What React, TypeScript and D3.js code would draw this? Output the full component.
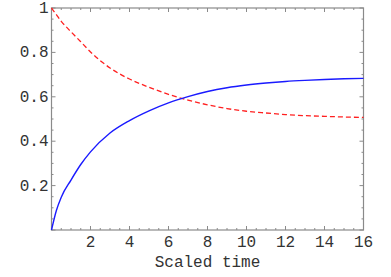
import React, { useEffect, useRef } from 'react';
import * as d3 from 'd3';

// values
const times = [0, 0.25, 0.5, 1, 1.5, 2, 3, 4, 5, 6, 7, 8, 9, 10, 11, 12, 13, 14, 15, 16];
const blueValues = [0, 0.088, 0.148, 0.225, 0.295, 0.352, 0.437, 0.493, 0.537, 0.573, 0.601, 0.624, 0.641, 0.653, 0.662, 0.669, 0.674, 0.678, 0.681, 0.683];
const redValues = [1, 0.97, 0.94, 0.893, 0.848, 0.802, 0.73, 0.68, 0.643, 0.611, 0.585, 0.564, 0.547, 0.535, 0.527, 0.52, 0.515, 0.512, 0.509, 0.507];
const xTicks = [2, 4, 6, 8, 10, 12, 14, 16];
const yTicks = [0.2, 0.4, 0.6, 0.8, 1];
const xLabel = 'Scaled time';

const W = 391;
const H = 277;
const margin = { top: 8, right: 27.5, bottom: 47, left: 51.5 };

export default function App() {
  const ref = useRef<SVGSVGElement>(null);

  useEffect(() => {
    const svg = d3.select(ref.current);
    svg.selectAll('*').remove();

    const w = W - margin.left - margin.right;
    const h = H - margin.top - margin.bottom;

    const x = d3.scaleLinear().domain([0, 16]).range([0, w]);
    const y = d3.scaleLinear().domain([0, 1]).range([h, 0]);

    const g = svg.append('g').attr('transform', `translate(${margin.left},${margin.top})`);

    const frameColor = '#8a8a8a';
    const minorX = d3.range(0, 16.001, 0.5);
    const minorY = d3.range(0, 1.0001, 0.05);

    // ticks inward on all four sides
    const tickG = g.append('g').attr('stroke', frameColor).attr('stroke-width', 1);
    minorX.forEach(t => {
      const major = Math.abs(t / 2 - Math.round(t / 2)) < 1e-6;
      const len = major ? 4 : 2;
      tickG.append('line').attr('x1', x(t)).attr('x2', x(t)).attr('y1', h).attr('y2', h - len);
      tickG.append('line').attr('x1', x(t)).attr('x2', x(t)).attr('y1', 0).attr('y2', len);
    });
    minorY.forEach(v => {
      const major = Math.abs(v / 0.2 - Math.round(v / 0.2)) < 1e-6;
      const len = major ? 4 : 2;
      tickG.append('line').attr('x1', 0).attr('x2', len).attr('y1', y(v)).attr('y2', y(v));
      tickG.append('line').attr('x1', w).attr('x2', w - len).attr('y1', y(v)).attr('y2', y(v));
    });

    g.append('rect')
      .attr('x', 0).attr('y', 0).attr('width', w).attr('height', h)
      .attr('fill', 'none').attr('stroke', frameColor).attr('stroke-width', 1.2);

    const font = '"Liberation Mono", "Courier New", monospace';
    const textColor = '#333';

    g.selectAll('.xt')
      .data(xTicks)
      .enter().append('text')
      .attr('x', d => x(d))
      .attr('y', h + 17)
      .attr('text-anchor', 'middle')
      .attr('font-family', font)
      .attr('font-size', 16)
      .attr('fill', textColor)
      .text(d => String(d));

    g.selectAll('.yt')
      .data(yTicks)
      .enter().append('text')
      .attr('x', -3)
      .attr('y', d => y(d) + 5)
      .attr('text-anchor', 'end')
      .attr('font-family', font)
      .attr('font-size', 16)
      .attr('fill', textColor)
      .text(d => String(d));

    g.append('text')
      .attr('x', x(8))
      .attr('y', h + 37)
      .attr('text-anchor', 'middle')
      .attr('font-family', font)
      .attr('font-size', 16)
      .attr('fill', textColor)
      .text(xLabel);

    const line = d3.line<number>()
      .x((_, i) => x(times[i]))
      .y(d => y(d))
      .curve(d3.curveMonotoneX);

    g.append('path')
      .datum(redValues)
      .attr('d', line)
      .attr('fill', 'none')
      .attr('stroke', '#ff2020')
      .attr('stroke-width', 1.3)
      .attr('stroke-dasharray', '5,3');

    g.append('path')
      .datum(blueValues)
      .attr('d', line)
      .attr('fill', 'none')
      .attr('stroke', '#1a1aff')
      .attr('stroke-width', 1.4);
  }, []);

  return (
    <svg
      ref={ref}
      width={W}
      height={H}
      style={{ position: 'absolute', left: 0, top: 0, background: '#fff' }}
    />
  );
}
